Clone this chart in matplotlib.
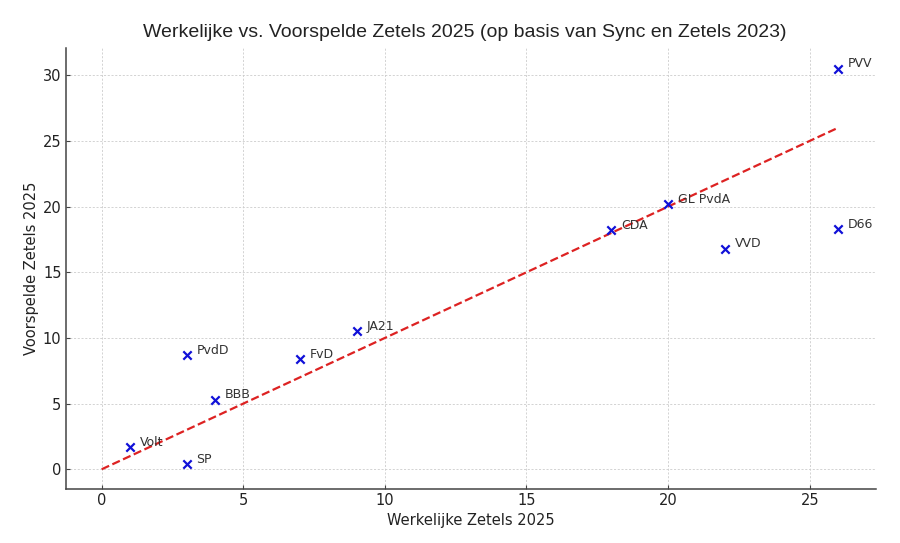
import matplotlib.pyplot as plt

partijen = ['PVV', 'D66', 'VVD', 'GL PvdA', 'CDA', 'JA21', 'FvD', 'PvdD', 'BBB', 'Volt', 'SP']
werkelijk = [26, 26, 22, 20, 18, 9, 7, 3, 4, 1, 3]
voorspeld = [30.5, 18.3, 16.8, 20.2, 18.2, 10.5, 8.4, 8.7, 5.3, 1.7, 0.4]
lijn = [0, 26]

fig, ax = plt.subplots(figsize=(9, 5.43), dpi=100)
ax.scatter(werkelijk, voorspeld, marker='x', color='#1010d8', s=36, linewidths=1.6, zorder=3)
ax.plot(lijn, lijn, '--', color='#dd2222', linewidth=1.6, zorder=2)

# labels rechts van de punten
for naam, x, y in zip(partijen, werkelijk, voorspeld):
    ax.annotate(naam, (x, y), xytext=(7, 1), textcoords='offset points',
                fontsize=9, color='#333333')

ax.set_xlim(-1.27, 27.33)
ax.set_ylim(-1.52, 32.05)
ax.set_title('Werkelijke vs. Voorspelde Zetels 2025 (op basis van Sync en Zetels 2023)',
             fontsize=14, color='#222222', family='Liberation Sans', pad=8, x=0.493)
ax.set_xlabel('Werkelijke Zetels 2025', fontsize=10.5, color='#222222', labelpad=3)
ax.set_ylabel('Voorspelde Zetels 2025', fontsize=10.5, color='#222222', labelpad=3)
ax.grid(True, linestyle=(0, (2.5, 2)), color='#cccccc', linewidth=0.6)
ax.set_axisbelow(True)
for s in ['top', 'right']:
    ax.spines[s].set_visible(False)
for s in ['left', 'bottom']:
    ax.spines[s].set_color('#444444')
    ax.spines[s].set_linewidth(1.1)
ax.tick_params(direction='in', length=3, width=0.8, color='#444444',
               labelsize=10.5, labelcolor='#222222', pad=3)

fig.subplots_adjust(left=0.073, right=0.973, top=0.911, bottom=0.099)
fig.savefig('out.png', dpi=100)
plt.close('all')
